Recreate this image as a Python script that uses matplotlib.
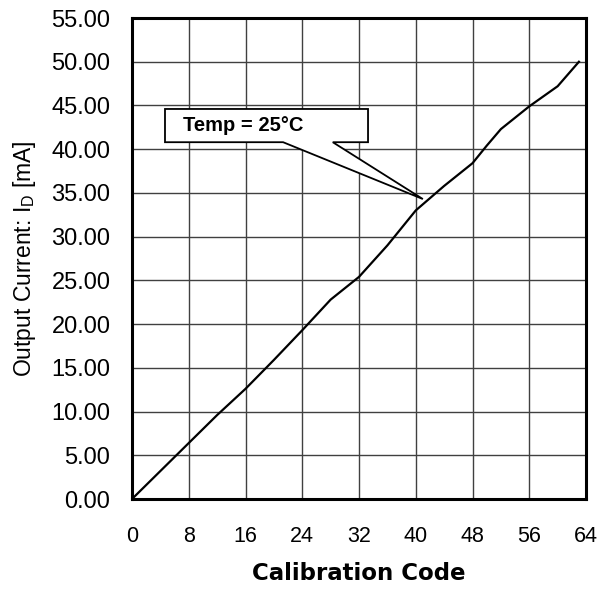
import matplotlib
matplotlib.use("Agg")
import matplotlib.pyplot as plt
from matplotlib.patches import Polygon
from matplotlib.ticker import FormatStrFormatter

# calibration code vs output current
codes = [0, 4, 8, 12, 16, 20, 24, 28, 30, 32, 34, 36, 40, 44, 48, 50, 52, 56, 60, 63]
current = [0.0, 3.2, 6.4, 9.6, 12.6, 15.9, 19.3, 22.8, 24.1, 25.4, 27.2, 29.0,
           33.0, 35.8, 38.4, 40.4, 42.3, 44.9, 47.2, 50.0]

x_ticks = list(range(0, 65, 8))
y_ticks = [i * 5 for i in range(12)]
callout_text = "Temp = 25°C"

plt.rcParams['font.family'] = ['Liberation Sans', 'DejaVu Sans']

fig = plt.figure(figsize=(6.10, 5.89), dpi=100)
ax = fig.add_axes([0.2164, 0.1528, 0.7443, 0.8166])

ax.plot(codes, current, color="black", lw=1.6, zorder=3)

ax.set_xlim(0, 64)
ax.set_ylim(0, 55)
ax.set_xticks(x_ticks)
ax.set_yticks(y_ticks)
ax.yaxis.set_major_formatter(FormatStrFormatter('%.2f'))
ax.tick_params(axis='y', length=0, labelsize=17, pad=15.5)
ax.tick_params(axis='x', length=0, labelsize=15.5, pad=19.5)
ax.grid(True, color="#404040", lw=1.0)
ax.set_axisbelow(True)
for s in ax.spines.values():
    s.set_linewidth(2.2)
    s.set_zorder(4)

ax.set_ylabel("Output Current: I$_\\mathregular{D}$ [mA]", fontsize=16.5, labelpad=10)
ax.set_xlabel("Calibration Code", fontsize=16.5, fontweight="bold",
              family=['DejaVu Sans'], labelpad=11)

# callout box with pointer
box = [(4.65, 40.8), (4.65, 44.6), (33.27, 44.6), (33.27, 40.8),
       (28.3, 40.8), (41.0, 34.3), (21.3, 40.8)]
ax.add_patch(Polygon(box, closed=True, facecolor="white", edgecolor="black",
                     lw=1.3, zorder=5))
ax.text(7.2, 42.75, callout_text, fontsize=14.5, fontweight="bold",
        va="center", ha="left", zorder=6)

fig.savefig("out.png", dpi=100)
